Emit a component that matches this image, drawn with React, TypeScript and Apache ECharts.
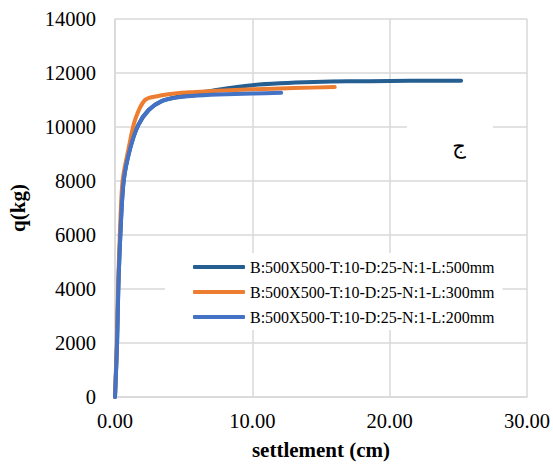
import React, { useEffect, useRef } from "react";
import * as echarts from "echarts";

const seriesNames = [
  "B:500X500-T:10-D:25-N:1-L:500mm",
  "B:500X500-T:10-D:25-N:1-L:300mm",
  "B:500X500-T:10-D:25-N:1-L:200mm",
];

const seriesColors = ["#255E91", "#ED7D31", "#4472C4"];

const settlement500 = [0, 0.15, 0.24, 0.39, 0.63, 1.1, 1.7, 2.45, 3.4, 4.6, 5.6, 7.5, 10, 12, 14.5, 17, 20, 23, 25.2];
const load500 = [0, 2000, 4000, 6000, 8000, 9200, 10075, 10630, 10960, 11120, 11210, 11380, 11550, 11620, 11668, 11690, 11705, 11712, 11716];

const settlement300 = [0, 0.13, 0.22, 0.35, 0.55, 0.97, 1.46, 2.18, 3.15, 4.7, 5.6, 7.5, 10, 13, 16];
const load300 = [0, 2000, 4000, 6000, 8000, 9150, 10260, 11000, 11150, 11260, 11290, 11340, 11396, 11440, 11482];

const settlement200 = [0, 0.15, 0.24, 0.39, 0.63, 1.1, 1.7, 2.45, 3.4, 4.6, 5.6, 7.5, 10, 12.1];
const load200 = [0, 2000, 4000, 6000, 8000, 9200, 10075, 10630, 10960, 11100, 11150, 11200, 11240, 11270];

const xTicks = { min: 0, max: 30, interval: 10 };
const yTicks = { min: 0, max: 14000, interval: 2000 };

const annotation = "ج";

const FONT = "Liberation Serif, serif";

function pairs(xs: number[], ys: number[]) {
  return xs.map((x, i) => [x, ys[i]]);
}

export default function App() {
  const ref = useRef<HTMLDivElement>(null);
  useEffect(() => {
    if (!ref.current) return;
    const chart = echarts.init(ref.current, null, { renderer: "svg" });
    const datasets = [
      pairs(settlement500, load500),
      pairs(settlement300, load300),
      pairs(settlement200, load200),
    ];
    chart.setOption({
      animation: false,
      backgroundColor: "#fff",
      textStyle: { fontFamily: FONT, color: "#000" },
      grid: { left: 115, right: 26, top: 19, bottom: 67, containLabel: false, outerBoundsMode: "none" },
      xAxis: {
        type: "value",
        min: xTicks.min,
        max: xTicks.max,
        interval: xTicks.interval,
        name: "settlement (cm)",
        nameLocation: "middle",
        nameGap: 42,
        nameTextStyle: { fontFamily: FONT, fontSize: 21, fontWeight: "bold", color: "#000" },
        axisLine: { show: true, lineStyle: { color: "#d9d9d9", width: 1.5 } },
        axisTick: { show: false },
        axisLabel: {
          fontFamily: FONT,
          fontSize: 20.5,
          color: "#000",
          margin: 13,
          formatter: (v: number) => v.toFixed(2),
        },
        splitLine: { show: true, lineStyle: { color: "#d9d9d9", width: 1.5 } },
      },
      yAxis: {
        type: "value",
        min: yTicks.min,
        max: yTicks.max,
        interval: yTicks.interval,
        name: "q(kg)",
        nameLocation: "middle",
        nameGap: 87,
        nameRotate: 90,
        nameTextStyle: { fontFamily: FONT, fontSize: 21, fontWeight: "bold", color: "#000" },
        axisLine: { show: true, lineStyle: { color: "#d9d9d9", width: 1.5 } },
        axisTick: { show: false },
        axisLabel: {
          fontFamily: FONT,
          fontSize: 20.5,
          color: "#000",
          margin: 19,
          formatter: (v: number) => String(v),
        },
        splitLine: { show: true, lineStyle: { color: "#d9d9d9", width: 1.5 } },
      },
      legend: {
        orient: "vertical",
        left: 165,
        top: 253,
        backgroundColor: "#fff",
        padding: [4, 8, 3, 28],
        itemGap: 5,
        itemWidth: 52,
        itemHeight: 4,
        icon: "roundRect",
        textStyle: { fontFamily: FONT, fontSize: 16, color: "#000", lineHeight: 20 },
        data: seriesNames,
      },
      graphic: [
        {
          type: "rect",
          shape: { x: 407, y: 116, width: 86, height: 58 },
          style: { fill: "#fff" },
          z: 10,
        },
        {
          type: "text",
          x: 459,
          y: 145,
          z: 11,
          style: {
            text: annotation,
            font: "21px 'Noto Sans', 'DejaVu Sans', sans-serif",
            fill: "#000",
            align: "center",
            verticalAlign: "middle",
          },
        },
      ],
      series: datasets.map((d, i) => ({
        name: seriesNames[i],
        type: "line",
        data: d,
        showSymbol: false,
        symbol: "none",
        smooth: 0.3,
        lineStyle: { color: seriesColors[i], width: 4, cap: "round", join: "round" },
        itemStyle: { color: seriesColors[i] },
        z: 2 + i,
      })),
    });
    return () => chart.dispose();
  }, []);
  return <div ref={ref} style={{ width: 553, height: 464, position: "absolute", left: 0, top: 0 }} />;
}
